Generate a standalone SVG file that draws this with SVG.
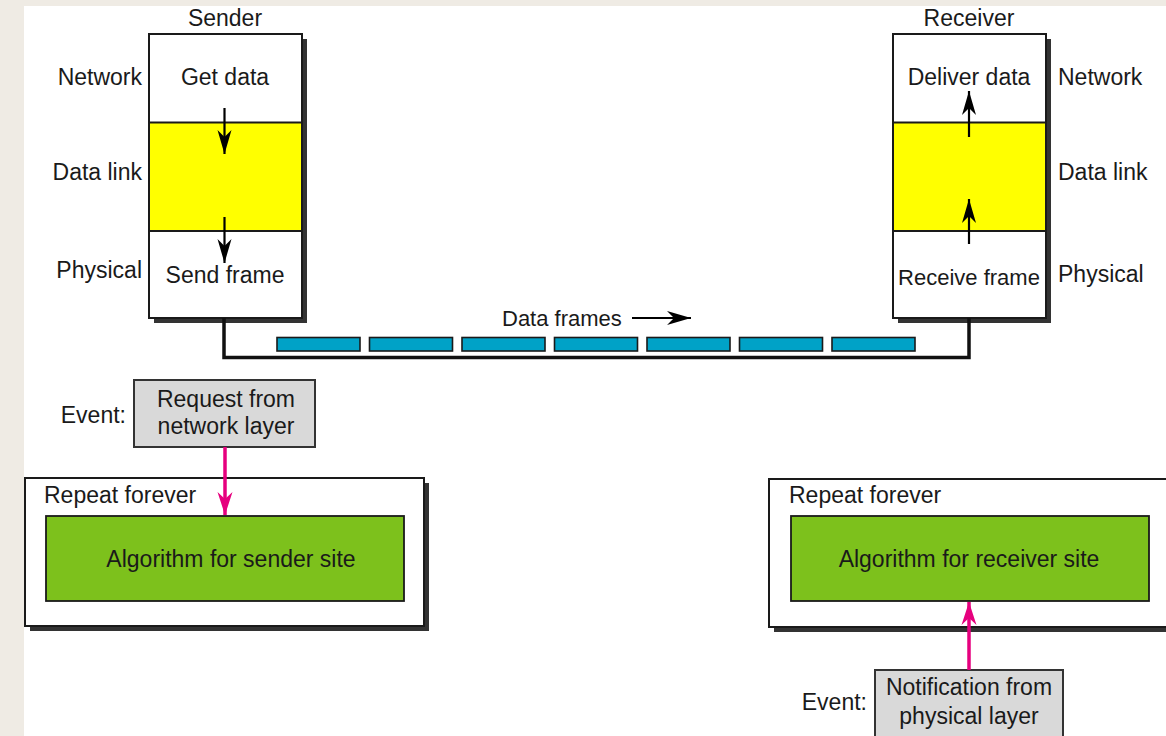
<svg xmlns="http://www.w3.org/2000/svg" width="1166" height="736" viewBox="0 0 1166 736">
<defs>
<style>
text{font-family:"Liberation Sans",Arial,sans-serif;font-size:23px;fill:#1a1a1a}
.c{text-anchor:middle}
.e{text-anchor:end}
.s{font-size:22px}
.box{fill:#fff;stroke:#1a1a1a;stroke-width:2}
.sh{fill:#333}
.yl{fill:#ffff00}
.ln{stroke:#1a1a1a;stroke-width:2;fill:none}
.gr{fill:#7dc11c;stroke:#1a1a1a;stroke-width:1.8}
.ev{fill:#d9d9d9;stroke:#333;stroke-width:2}
.fr{fill:#00a2c7;stroke:#1a1a1a;stroke-width:1.6}
.wire{stroke:#111;stroke-width:3.5;fill:none}
.ar{stroke:#000;stroke-width:2.2;fill:none}
.pk{stroke:#e6007e;stroke-width:3.5;fill:none}
</style>
<marker id="ab" viewBox="-25 -8 26 16" refX="0" refY="0" markerWidth="26" markerHeight="16" markerUnits="userSpaceOnUse" orient="auto">
<path d="M0,0 L-24,-7 L-17,0 L-24,7 Z" fill="#000"/>
</marker>
<marker id="ap" viewBox="-25 -9 26 18" refX="0" refY="0" markerWidth="26" markerHeight="18" markerUnits="userSpaceOnUse" orient="auto">
<path d="M0,0 L-23,-7.5 L-16,0 L-23,7.5 Z" fill="#e6007e"/>
</marker>
</defs>
<rect x="0" y="0" width="1166" height="736" fill="#efebe4"/>
<rect x="24" y="6" width="1142" height="730" fill="#fff"/>

<g id="sender">
<text class="c" x="225" y="26">Sender</text>
<rect class="sh" x="154" y="39" width="153" height="284"/>
<rect class="box" x="149" y="34" width="153" height="284"/>
<rect class="yl" x="150" y="122.5" width="151" height="108.5"/>
<line class="ln" x1="149" y1="122.5" x2="302" y2="122.5"/>
<line class="ln" x1="149" y1="231" x2="302" y2="231"/>
<text class="e" x="142" y="85">Network</text>
<text class="e" x="142" y="180">Data link</text>
<text class="e" x="142" y="278">Physical</text>
<text class="c" x="225" y="85">Get data</text>
<text class="c" x="225" y="283">Send frame</text>
</g>

<g id="receiver">
<text class="c" x="969" y="26">Receiver</text>
<rect class="sh" x="898" y="39" width="153" height="284"/>
<rect class="box" x="893" y="34" width="153" height="284"/>
<rect class="yl" x="894" y="122.5" width="151" height="108.5"/>
<line class="ln" x1="893" y1="122.5" x2="1046" y2="122.5"/>
<line class="ln" x1="893" y1="231" x2="1046" y2="231"/>
<text x="1058" y="85">Network</text>
<text x="1058" y="180">Data link</text>
<text x="1058" y="282">Physical</text>
<text class="c" x="969" y="85">Deliver data</text>
<text class="c s" x="969" y="285">Receive frame</text>
</g>

<g id="frames">
<rect class="fr" x="277" y="337.5" width="83" height="13.5"/>
<rect class="fr" x="369.5" y="337.5" width="83" height="13.5"/>
<rect class="fr" x="462" y="337.5" width="83" height="13.5"/>
<rect class="fr" x="554.5" y="337.5" width="83" height="13.5"/>
<rect class="fr" x="647" y="337.5" width="83" height="13.5"/>
<rect class="fr" x="739.5" y="337.5" width="83" height="13.5"/>
<rect class="fr" x="832" y="337.5" width="83" height="13.5"/>
<text class="s" x="502" y="326">Data frames</text>
</g>

<g id="sender-event">
<text class="e" x="126" y="423">Event:</text>
<rect class="ev" x="134" y="380" width="181" height="67"/>
<text class="c" x="226" y="407">Request from</text>
<text class="c" x="226" y="434">network layer</text>
</g>

<g id="sender-loop">
<rect class="sh" x="30" y="483" width="399" height="148"/>
<rect class="box" x="25" y="478" width="399" height="148"/>
<text x="44" y="503">Repeat forever</text>
<rect class="gr" x="46" y="516" width="358" height="85"/>
<text class="c" x="231" y="567">Algorithm for sender site</text>
</g>

<g id="receiver-loop">
<rect class="sh" x="774" y="484" width="420" height="148"/>
<rect class="box" x="769" y="479" width="420" height="148"/>
<text x="789" y="503">Repeat forever</text>
<rect class="gr" x="791" y="516" width="358" height="85"/>
<text class="c" x="969" y="567">Algorithm for receiver site</text>
</g>

<g id="receiver-event">
<text class="e" x="867" y="710">Event:</text>
<rect class="ev" x="875" y="670" width="188" height="80"/>
<text class="c" x="969" y="695">Notification from</text>
<text class="c" x="969" y="724">physical layer</text>
</g>

<g id="connectors">
<path class="wire" d="M224,318 V357.5 H969 V318"/>
<line class="ar" x1="224.5" y1="108" x2="224.5" y2="154" marker-end="url(#ab)"/>
<line class="ar" x1="224.5" y1="217" x2="224.5" y2="263" marker-end="url(#ab)"/>
<line class="ar" x1="969" y1="137" x2="969" y2="91" marker-end="url(#ab)"/>
<line class="ar" x1="969" y1="244" x2="969" y2="199" marker-end="url(#ab)"/>
<line class="ar" x1="632" y1="318" x2="691" y2="318" marker-end="url(#ab)"/>
<line class="pk" x1="225" y1="447" x2="225" y2="515" marker-end="url(#ap)"/>
<line class="pk" x1="969" y1="670" x2="969" y2="602" marker-end="url(#ap)"/>
</g>
</svg>
